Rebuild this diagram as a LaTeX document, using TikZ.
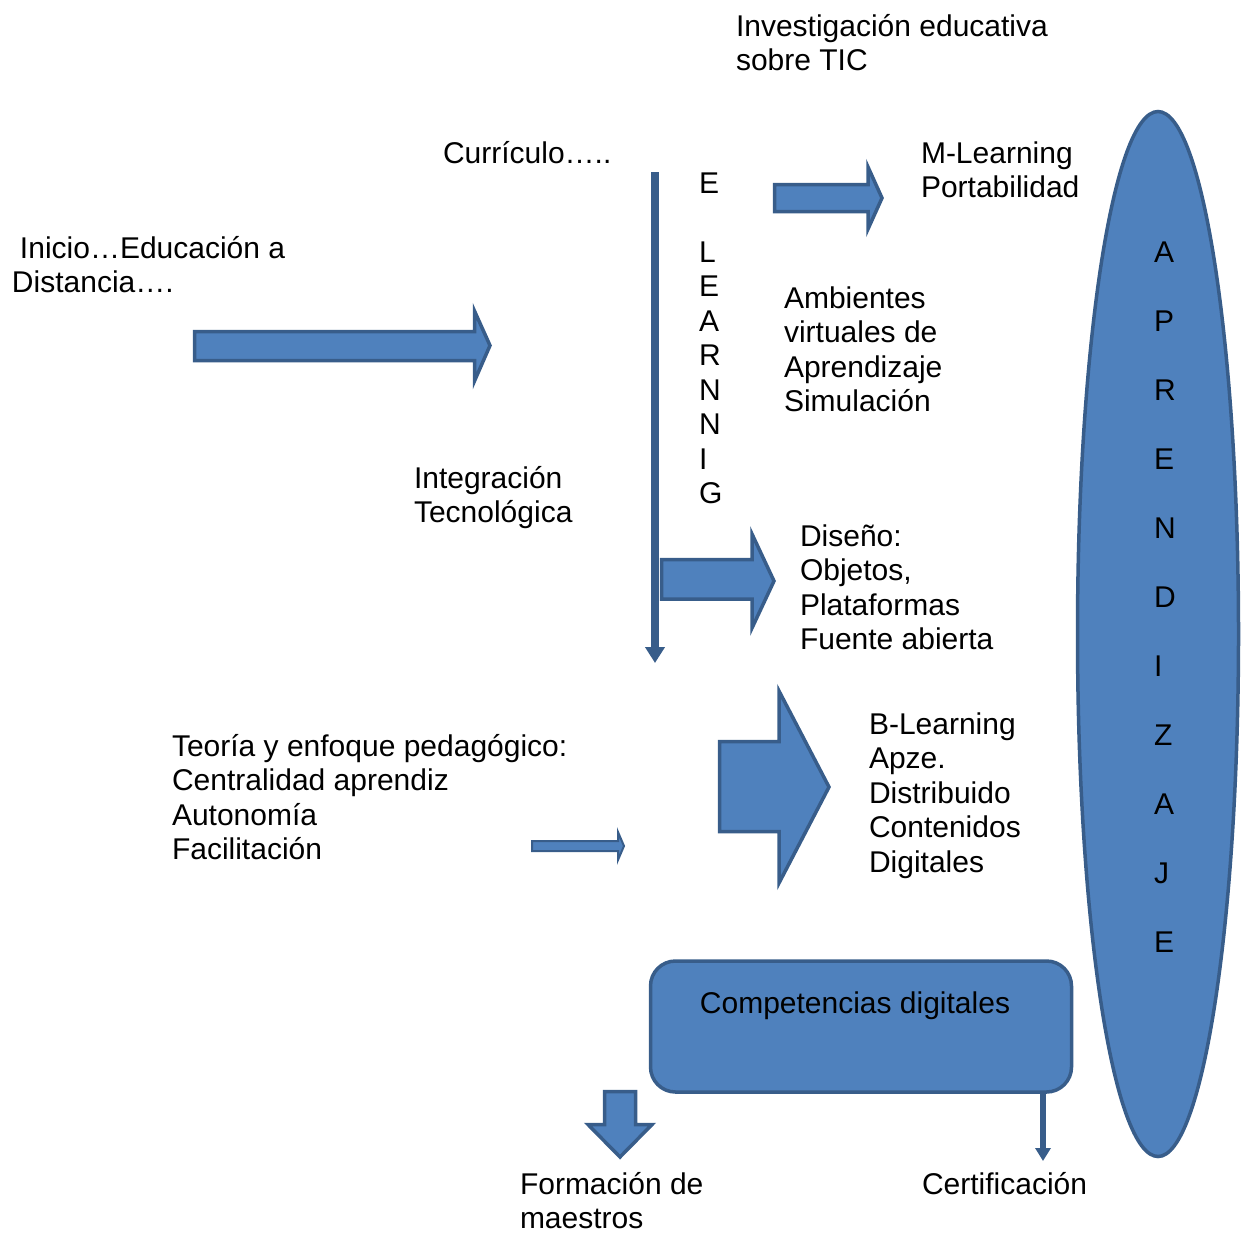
\documentclass[tikz,border=0pt]{standalone}
\usepackage{fontspec}
\setmainfont{Liberation Sans}
\usetikzlibrary{arrows.meta,shapes.geometric}
\definecolor{blu}{HTML}{4F81BD}
\definecolor{dk}{HTML}{385D8A}
\newcommand{\fstrut}{\rule{0pt}{22pt}}
\begin{document}
\begin{tikzpicture}[x=1pt,y=-1pt,
  txt/.style={font=\fontsize{30}{34.5}\selectfont, inner sep=0pt, outer sep=0pt, align=left, anchor=north west},
  blockarrow/.style={fill=blu, draw=dk, line width=3.5pt, line join=miter, miter limit=10},
  thinline/.style={draw=dk, line cap=butt}
]
\useasboundingbox (0,0) rectangle (1246,1232);

% ellipse APRENDIZAJE
\node[ellipse, minimum width=161pt, minimum height=1045pt, inner sep=0pt, fill=blu, draw=dk, line width=3.5pt] (aprend) at (1158,634) {};
\node[txt] (aprtext) at (1154,240) {\fstrut A\\[34.5pt]P\\[34.5pt]R\\[34.5pt]E\\[34.5pt]N\\[34.5pt]D\\[34.5pt]I\\[34.5pt]Z\\[34.5pt]A\\[34.5pt]J\\[34.5pt]E};

% texts
\node[txt] (inv) at (736,14) {\fstrut Investigación educativa\\sobre TIC};
\node[txt] (curr) at (443,141) {\fstrut Currículo…..};
\node[txt] (inicio) at (12,236) {\fstrut\hspace{8pt}Inicio…Educación a\\Distancia….};
\node[txt] (mlearn) at (921,141) {\fstrut M-Learning\\Portabilidad};
\node[txt] (amb) at (784,286) {\fstrut Ambientes\\virtuales de\\Aprendizaje\\Simulación};
\node[txt] (integ) at (414,466) {\fstrut Integración\\Tecnológica};
\node[txt] (dis) at (800,524) {\fstrut Diseño:\\Objetos,\\Plataformas\\Fuente abierta};
\node[txt] (teo) at (172,734) {\fstrut Teoría y enfoque pedagógico:\\Centralidad aprendiz\\Autonomía\\Facilitación};
\node[txt] (blearn) at (869,712) {\fstrut B-Learning\\Apze.\\Distribuido\\Contenidos\\Digitales};
\node[txt] (form) at (520,1172) {\fstrut Formación de\\maestros};
\node[txt] (cert) at (922,1172) {\fstrut Certificación};
\node[txt] (elearn) at (699,171) {\fstrut E\\[34.5pt]L\\E\\A\\R\\N\\N\\I\\G};

% vertical E-learning line
\coordinate (vtop) at (655,172);
\coordinate (vbot) at (655,663);
\draw[thinline, line width=8pt, -{Triangle[width=19pt,length=16pt]}] (vtop) -- (vbot);

% block arrows
\draw[blockarrow] (194.5,331.5) -- (474.5,331.5) -- (474.5,311) -- (490,345.5) -- (474.5,381) -- (474.5,360.5) -- (194.5,360.5) -- cycle;
\draw[blockarrow] (774.5,184.5) -- (868,184.5) -- (868,167) -- (882,198) -- (868,229) -- (868,211.5) -- (774.5,211.5) -- cycle;
\draw[blockarrow] (661.5,559.5) -- (752,559.5) -- (752,534) -- (774,581) -- (752,628) -- (752,599) -- (661.5,599) -- cycle;
\draw[blockarrow] (719.5,741.5) -- (779,741.5) -- (779,691) -- (829,787) -- (779,883) -- (779,831.5) -- (719.5,831.5) -- cycle;
\draw[blockarrow, line width=2pt] (532,841) -- (618,841) -- (618,832) -- (624,846) -- (618,860) -- (618,851) -- (532,851) -- cycle;
\draw[blockarrow] (604.5,1091.5) -- (635.5,1091.5) -- (635.5,1124.5) -- (652,1124.5) -- (620,1157) -- (588,1124.5) -- (604.5,1124.5) -- cycle;

% competencias box
\node[rectangle, rounded corners=25pt, minimum width=421pt, minimum height=131pt, fill=blu, draw=dk, line width=3.5pt, inner sep=0pt] (comp) at (861,1026.5) {};
\node[font=\fontsize{30}{34.5}\selectfont, inner sep=0pt] (comptext) at (855,1006) {Competencias digitales};

\coordinate (certtop) at (1043,1093);
\coordinate (certtip) at (1043,1161);
\draw[thinline, line width=6pt, -{Triangle[width=15pt,length=13pt]}] (certtop) -- (certtip);
\end{tikzpicture}
\end{document}
